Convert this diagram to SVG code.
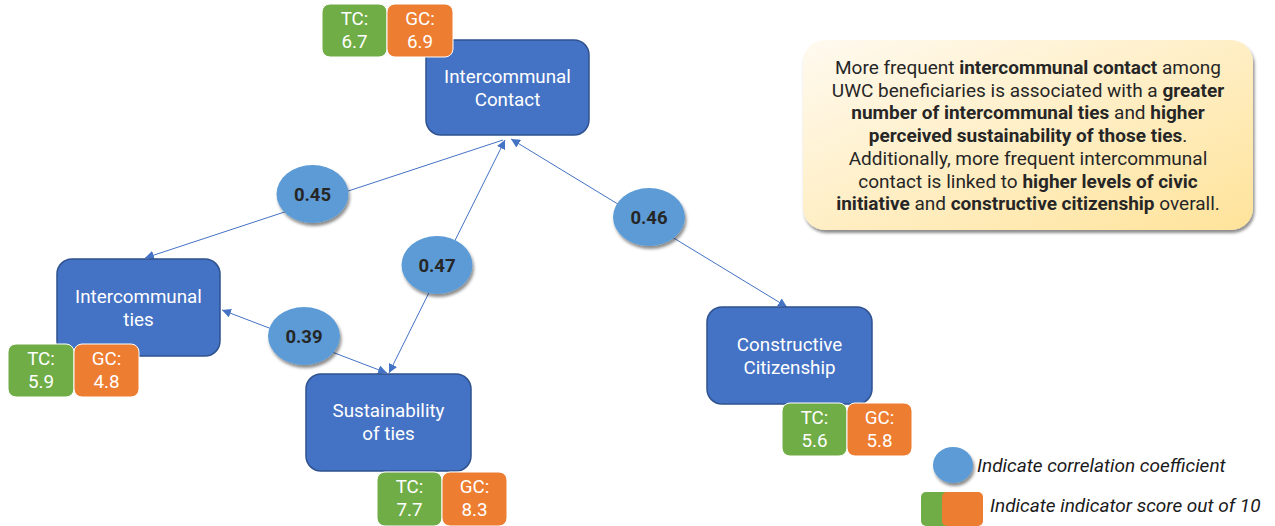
<svg xmlns="http://www.w3.org/2000/svg" width="1275" height="526" viewBox="0 0 1275 526">
  <defs>
    <style>
      .node { fill: #4472C4; stroke: #2F528F; stroke-width: 1.5; }
      .node-text { font-family: Roboto, "Liberation Sans", sans-serif; font-size: 18.8px; fill: #ffffff; text-anchor: middle; }
      .tc { fill: #70AD47; stroke: #ffffff; stroke-width: 1; }
      .gc { fill: #ED7D31; stroke: #ffffff; stroke-width: 1; }
      .badge-text { font-family: Roboto, "Liberation Sans", sans-serif; font-size: 18.8px; fill: #ffffff; text-anchor: middle; }
      .corr { fill: #5B9BD5; }
      .corr-text { font-family: Roboto, "Liberation Sans", sans-serif; font-size: 18.5px; font-weight: bold; fill: #262626; text-anchor: middle; }
      .edge { stroke: #4472C4; stroke-width: 1; fill: none; }
      .note { font-family: Roboto, "Liberation Sans", sans-serif; font-size: 19px; fill: #262626; text-anchor: middle; }
      .note tspan.b { font-weight: bold; }
      .legend-text { font-family: Roboto, "Liberation Sans", sans-serif; font-size: 19px; font-style: italic; fill: #1a1a1a; }
    </style>
    <marker id="arrow" viewBox="0 0 10 10" refX="10" refY="5" markerWidth="9" markerHeight="9" markerUnits="userSpaceOnUse" orient="auto-start-reverse">
      <path d="M0,0 L10,5 L0,10 z" fill="#4472C4"/>
    </marker>
    <filter id="shadow" x="-20%" y="-20%" width="150%" height="160%">
      <feDropShadow dx="1.5" dy="3" stdDeviation="1.8" flood-color="#000000" flood-opacity="0.45"/>
    </filter>
    <linearGradient id="noteFill" x1="0" y1="0" x2="1" y2="1">
      <stop offset="0" stop-color="#FFFAF0"/>
      <stop offset="1" stop-color="#FFE39A"/>
    </linearGradient>
  </defs>

  <!-- connectors -->
  <g id="connectors">
    <line class="edge" x1="503" y1="140" x2="145" y2="258" marker-end="url(#arrow)"/>
    <line class="edge" x1="389" y1="373" x2="505" y2="140" marker-start="url(#arrow)" marker-end="url(#arrow)"/>
    <line class="edge" x1="222" y1="310" x2="387" y2="373" marker-start="url(#arrow)" marker-end="url(#arrow)"/>
    <line class="edge" x1="511" y1="139" x2="787" y2="307" marker-start="url(#arrow)" marker-end="url(#arrow)"/>
  </g>

  <!-- Intercommunal Contact -->
  <g id="node-contact">
    <rect class="node" x="426" y="40" width="163" height="95" rx="15"/>
    <text class="node-text" x="507.5" y="83">Intercommunal</text>
    <text class="node-text" x="507.5" y="106">Contact</text>
    <rect class="tc" x="322" y="4" width="65" height="53" rx="8"/>
    <text class="badge-text" x="354.5" y="25">TC:</text>
    <text class="badge-text" x="354.5" y="47.5">6.7</text>
    <rect class="gc" x="387" y="4" width="66" height="53" rx="8"/>
    <text class="badge-text" x="420" y="25">GC:</text>
    <text class="badge-text" x="420" y="47.5">6.9</text>
  </g>

  <!-- Intercommunal ties -->
  <g id="node-ties">
    <rect class="node" x="57" y="259" width="163" height="97" rx="15"/>
    <text class="node-text" x="138.5" y="303">Intercommunal</text>
    <text class="node-text" x="138.5" y="326">ties</text>
    <rect class="tc" x="8" y="344" width="66" height="53" rx="8"/>
    <text class="badge-text" x="41" y="365">TC:</text>
    <text class="badge-text" x="41" y="387.5">5.9</text>
    <rect class="gc" x="74" y="344" width="65" height="53" rx="8"/>
    <text class="badge-text" x="106.5" y="365">GC:</text>
    <text class="badge-text" x="106.5" y="387.5">4.8</text>
  </g>

  <!-- Sustainability of ties -->
  <g id="node-sustainability">
    <rect class="node" x="306" y="374" width="165" height="97" rx="15"/>
    <text class="node-text" x="388.5" y="417">Sustainability</text>
    <text class="node-text" x="388.5" y="440">of ties</text>
    <rect class="tc" x="377" y="472" width="65" height="54" rx="8"/>
    <text class="badge-text" x="409.5" y="493">TC:</text>
    <text class="badge-text" x="409.5" y="515.5">7.7</text>
    <rect class="gc" x="442" y="472" width="65" height="54" rx="8"/>
    <text class="badge-text" x="474.5" y="493">GC:</text>
    <text class="badge-text" x="474.5" y="515.5">8.3</text>
  </g>

  <!-- Constructive Citizenship -->
  <g id="node-citizenship">
    <rect class="node" x="707" y="307" width="165" height="97" rx="15"/>
    <text class="node-text" x="789.5" y="351">Constructive</text>
    <text class="node-text" x="789.5" y="374">Citizenship</text>
    <rect class="tc" x="782" y="403" width="65" height="53" rx="8"/>
    <text class="badge-text" x="814.5" y="424">TC:</text>
    <text class="badge-text" x="814.5" y="446.5">5.6</text>
    <rect class="gc" x="847" y="403" width="65" height="53" rx="8"/>
    <text class="badge-text" x="879.5" y="424">GC:</text>
    <text class="badge-text" x="879.5" y="446.5">5.8</text>
  </g>

  <!-- correlation coefficients -->
  <g id="corr-045">
    <ellipse class="corr" cx="312.5" cy="194" rx="36" ry="29" filter="url(#shadow)"/>
    <text class="corr-text" x="312.5" y="200.5">0.45</text>
  </g>
  <g id="corr-047">
    <ellipse class="corr" cx="437" cy="265" rx="35.5" ry="29" filter="url(#shadow)"/>
    <text class="corr-text" x="437" y="271.5">0.47</text>
  </g>
  <g id="corr-039">
    <ellipse class="corr" cx="304" cy="336" rx="36" ry="29" filter="url(#shadow)"/>
    <text class="corr-text" x="304" y="342.5">0.39</text>
  </g>
  <g id="corr-046">
    <ellipse class="corr" cx="649" cy="217" rx="36" ry="29" filter="url(#shadow)"/>
    <text class="corr-text" x="649" y="223.5">0.46</text>
  </g>

  <!-- summary note -->
  <g id="note">
    <rect x="803" y="40" width="450" height="190" rx="22" fill="url(#noteFill)" filter="url(#shadow)"/>
    <text class="note" x="1028" y="74">More frequent <tspan class="b">intercommunal contact</tspan> among</text>
    <text class="note" x="1028" y="97">UWC beneficiaries is associated with a <tspan class="b">greater</tspan></text>
    <text class="note" x="1028" y="119"><tspan class="b">number of intercommunal ties</tspan> and <tspan class="b">higher</tspan></text>
    <text class="note" x="1028" y="142"><tspan class="b">perceived sustainability of those ties</tspan>.</text>
    <text class="note" x="1028" y="165">Additionally, more frequent intercommunal</text>
    <text class="note" x="1028" y="188">contact is linked to <tspan class="b">higher levels of civic</tspan></text>
    <text class="note" x="1028" y="210"><tspan class="b">initiative</tspan> and <tspan class="b">constructive citizenship</tspan> overall.</text>
  </g>

  <!-- legend -->
  <g id="legend">
    <ellipse class="corr" cx="953" cy="465" rx="20" ry="18" filter="url(#shadow)"/>
    <text class="legend-text" x="977" y="472">Indicate correlation coefficient</text>
    <rect x="921" y="492" width="40" height="34" rx="5" fill="#70AD47"/>
    <rect x="942" y="492" width="41" height="34" rx="5" fill="#ED7D31"/>
    <text class="legend-text" x="990" y="512">Indicate indicator score out of 10</text>
  </g>
</svg>
